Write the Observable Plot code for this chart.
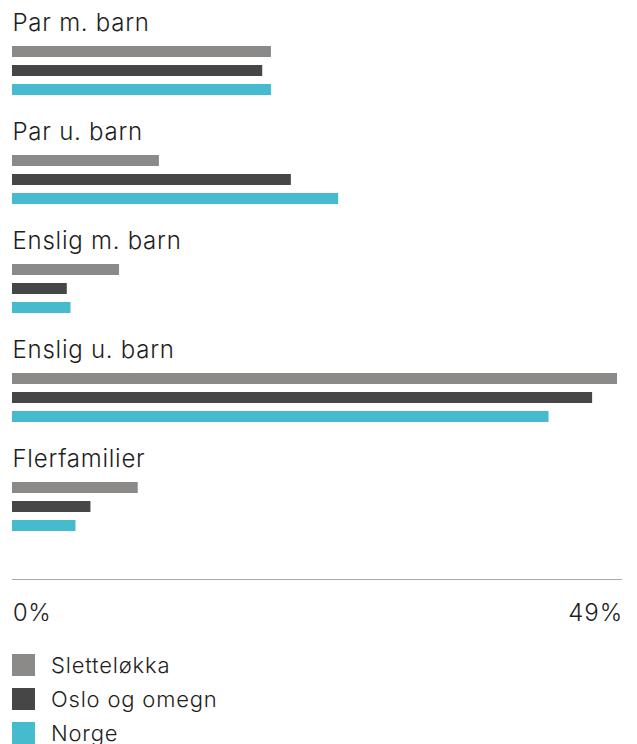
<!DOCTYPE html>
<html>
<head>
<meta charset="utf-8">
<script src="https://cdn.jsdelivr.net/npm/d3@7"></script>
<script src="https://cdn.jsdelivr.net/npm/@observablehq/plot@0.6"></script>
<style>
  html, body { margin: 0; padding: 0; background: #fff; }
  body { width: 637px; font-family: Inter, "Noto Sans", sans-serif; font-weight: 300; color: #1e1e1e; }
  #chart svg { display: block; }
  .legend { margin-top: 24px; padding-left: 12px; }
  .legend .row { display: flex; align-items: center; height: 22px; margin-bottom: 12px; font-size: 22px; letter-spacing: 0.8px; }
  .legend .sw { width: 23px; height: 22px; margin-right: 16px; flex: none; }
</style>
</head>
<body>
<div id="chart"></div>
<script>
const categories = ["Par m. barn", "Par u. barn", "Enslig m. barn", "Enslig u. barn", "Flerfamilier"];
const seriesNames = ["Sletteløkka", "Oslo og omegn", "Norge"];
const seriesColors = ["#8b8a88", "#464646", "#46bbce"];
const sletteloekka = [20.8, 11.8, 8.6, 48.6, 10.1];
const osloOgOmegn = [20.1, 22.4, 4.4, 46.6, 6.3];
const norge = [20.8, 26.2, 4.7, 43.1, 5.1];
const xTicks = [0, 49];

const seriesValues = [sletteloekka, osloOgOmegn, norge];
const table = [];
categories.forEach((c, i) => {
  seriesNames.forEach((s, j) => table.push({cat: c, series: s, value: seriesValues[j][i]}));
});

const textColor = "#1e1e1e";
const font = "Inter, 'Noto Sans', sans-serif";

const main = Plot.plot({
  width: 637,
  height: 545,
  marginLeft: 12,
  marginRight: 15,
  marginTop: 0,
  marginBottom: 0,
  style: {fontFamily: font, fontWeight: 300, color: textColor, background: "#fff", letterSpacing: "0.75px"},
  x: {domain: [0, 49], axis: null},
  fy: {domain: categories, padding: 0, axis: null},
  y: {domain: seriesNames, range: [46, 95], paddingInner: 8 / 19, paddingOuter: 0, axis: null},
  color: {domain: seriesNames, range: seriesColors},
  marks: [
    Plot.barX(table, {fy: "cat", y: "series", x: "value", fill: "series"}),
    Plot.text(categories, {fy: d => d, text: d => d, frameAnchor: "top-left", lineAnchor: "bottom", dy: 30.5, fontSize: 24, fill: textColor})
  ]
});

const axis = Plot.plot({
  width: 637,
  height: 85,
  marginLeft: 12,
  marginRight: 15,
  marginTop: 34,
  marginBottom: 27,
  style: {fontFamily: font, fontWeight: 300, color: textColor, background: "#fff", letterSpacing: "0.3px"},
  x: {domain: [0, 49], axis: null},
  y: {domain: [0, 1], axis: null},
  marks: [
    Plot.ruleY([1], {stroke: "#a9a9a9", strokeWidth: 1}),
    Plot.axisX([xTicks[0]], {anchor: "bottom", tickSize: 0, tickPadding: 0, textAnchor: "start", fontSize: 24, tickFormat: d => d + "%", fill: textColor}),
    Plot.axisX([xTicks[1]], {anchor: "bottom", tickSize: 0, tickPadding: 0, textAnchor: "end", fontSize: 24, tickFormat: d => d + "%", fill: textColor})
  ]
});

const chart = document.getElementById("chart");
chart.appendChild(main);
chart.appendChild(axis);

const legend = document.createElement("div");
legend.className = "legend";
seriesNames.forEach((s, j) => {
  const row = document.createElement("div");
  row.className = "row";
  const sw = document.createElement("span");
  sw.className = "sw";
  sw.style.background = seriesColors[j];
  const lab = document.createElement("span");
  lab.textContent = s;
  row.appendChild(sw);
  row.appendChild(lab);
  legend.appendChild(row);
});
chart.appendChild(legend);
</script>
</body>
</html>
